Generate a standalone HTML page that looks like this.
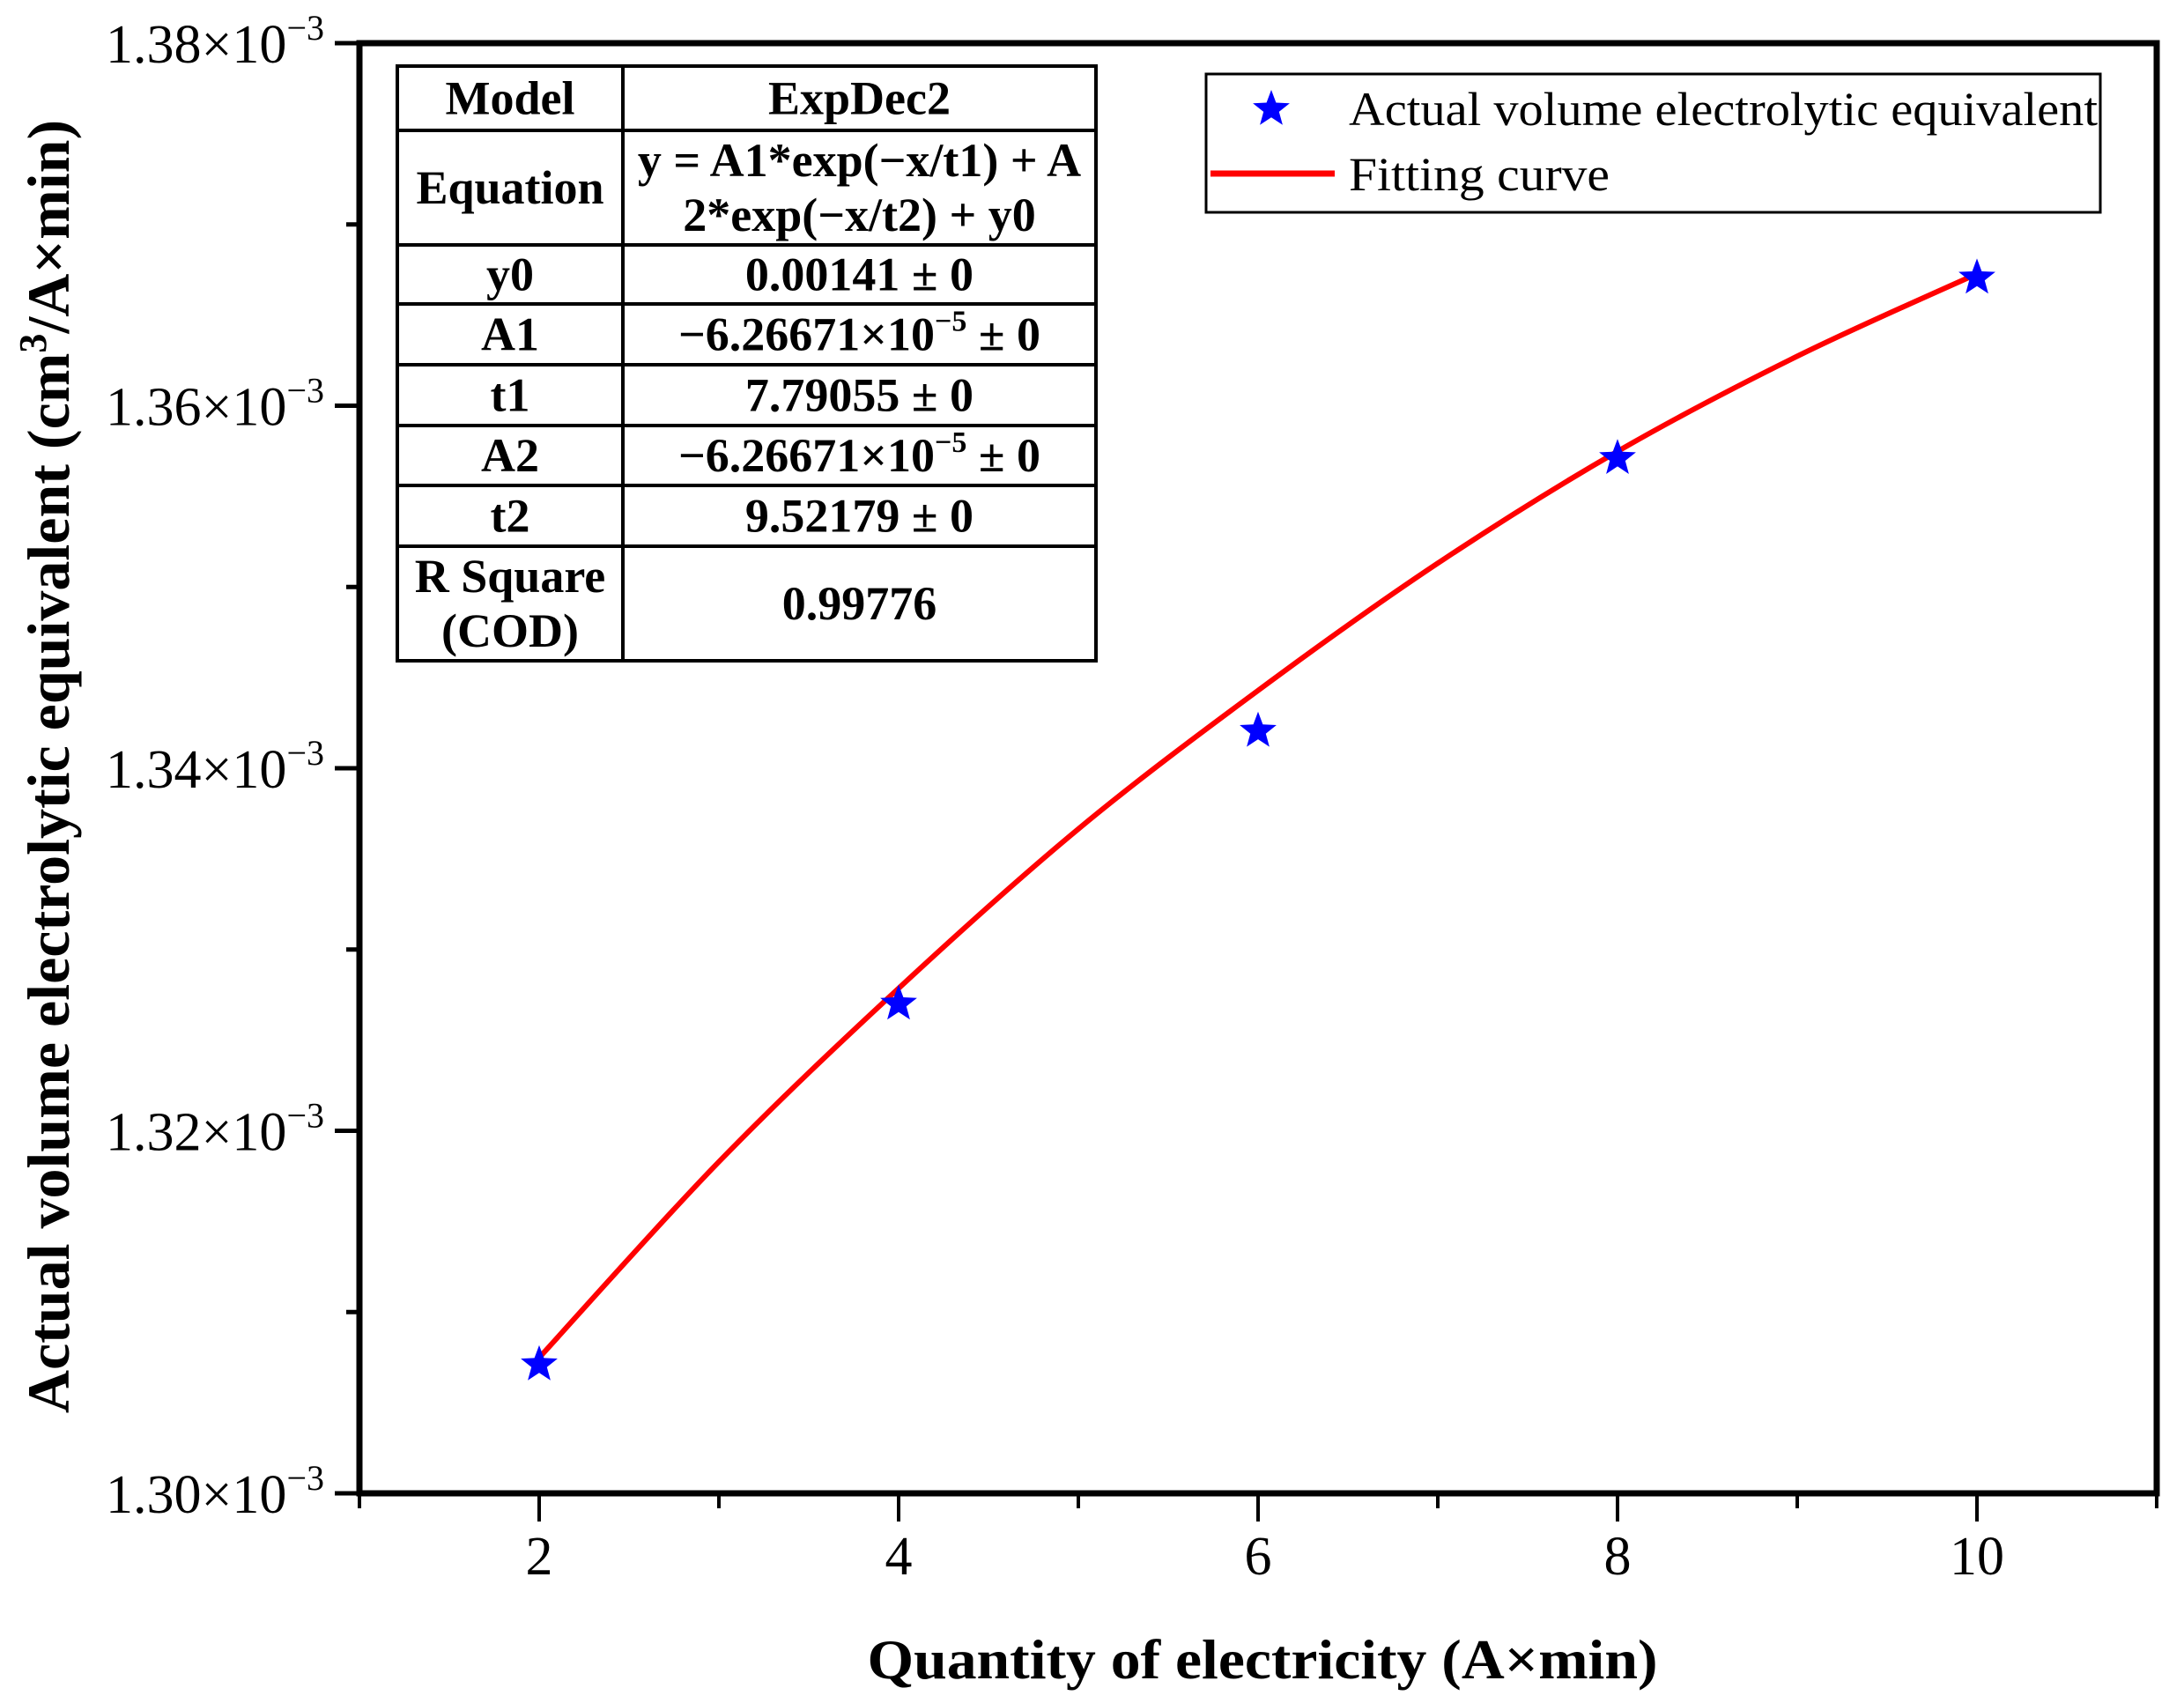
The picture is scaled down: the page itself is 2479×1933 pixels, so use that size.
<!DOCTYPE html>
<html><head><meta charset="utf-8"><style>
html,body{margin:0;padding:0;background:#fff;}
svg{display:block;font-family:"Liberation Serif",serif;}
</style></head><body>
<svg id="chart" width="2479" height="1933" viewBox="0 0 2479 1933" xmlns="http://www.w3.org/2000/svg">
<g id="axes"></g>
<g id="marks"></g>
<g id="table"></g>
<g id="legend"></g>
</svg>
<script>
const xPoints = [2, 4, 6, 8, 10];
const yPoints = [1.30710, 1.32700, 1.34205, 1.35710, 1.36705];
const fitX = [2, 3, 4, 5, 6, 7, 8, 9, 10];
const fitY = [1.30748, 1.31829, 1.32786, 1.33665, 1.34429, 1.35131, 1.35748, 1.36273, 1.36728];
const xTicks = [2, 4, 6, 8, 10];
const xMinor = [3, 5, 7, 9, 1, 11];
const yTicks = [1.30, 1.32, 1.34, 1.36, 1.38];
const yTickLabels = ["1.30", "1.32", "1.34", "1.36", "1.38"];
const yMinor = [1.31, 1.33, 1.35, 1.37];
const tableRows = [
  ["Model","ExpDec2"],
  ["Equation","y = A1*exp(−x/t1) + A|2*exp(−x/t2) + y0"],
  ["y0","0.00141 ± 0"],
  ["A1","−6.26671×10^−5 ± 0"],
  ["t1","7.79055 ± 0"],
  ["A2","−6.26671×10^−5 ± 0"],
  ["t2","9.52179 ± 0"],
  ["R Square|(COD)","0.99776"]
];

const NS = "http://www.w3.org/2000/svg";
const L = 408, R = 2448, T = 49, B = 1695;
const xMin = 1, xMax = 11, yMin = 1.30, yMax = 1.38;
function sx(v){ return L + (v - xMin) / (xMax - xMin) * (R - L); }
function sy(v){ return B - (v - yMin) / (yMax - yMin) * (B - T); }
function mk(tag, attrs, parent){
  const e = document.createElementNS(NS, tag);
  for (const k in attrs) e.setAttribute(k, attrs[k]);
  parent.appendChild(e); return e;
}
const axes = document.getElementById('axes');
const marks = document.getElementById('marks');
const table = document.getElementById('table');
const legend = document.getElementById('legend');

const frame = mk('rect', {x:L, y:T, width:R-L, height:B-T, fill:'none', stroke:'#000', 'stroke-width':7}, axes);



xTicks.forEach(v => {
  const t = mk('line', {x1:sx(v), x2:sx(v), y1:B, y2:B+32, stroke:'#000', 'stroke-width':4}, axes);
  
  
  const lb = mk('text', {x:sx(v), y:B+92, 'font-size':62, 'text-anchor':'middle'}, axes);
  lb.textContent = String(v);
  
  
});
xMinor.forEach(v => {
  const t = mk('line', {x1:sx(v), x2:sx(v), y1:B, y2:B+17, stroke:'#000', 'stroke-width':4}, axes);
  
  
});
yTicks.forEach((v, i) => {
  const t = mk('line', {x1:L-28, x2:L, y1:sy(v), y2:sy(v), stroke:'#000', 'stroke-width':5}, axes);
  
  
  const lb = mk('text', {x:L-40, y:sy(v)+22, 'font-size':62, 'text-anchor':'end'}, axes);
  
  
  const a = mk('tspan', {}, lb); a.textContent = yTickLabels[i] + "×10";
  const b = mk('tspan', {dy:-26, 'font-size':40}, lb); b.textContent = "−3";
});
yMinor.forEach(v => {
  const t = mk('line', {x1:L-15, x2:L, y1:sy(v), y2:sy(v), stroke:'#000', 'stroke-width':5}, axes);
  
  
});
const xt = mk('text', {x:1433, y:1905, 'font-size':64, 'font-weight':'bold', 'text-anchor':'middle', textLength:897, lengthAdjust:'spacingAndGlyphs'}, axes);
xt.textContent = "Quantity of electricity (A×min)";


const yt = mk('text', {x:0, y:0, 'font-size':68, 'font-weight':'bold', 'text-anchor':'middle', transform:'translate(78,870) rotate(-90)'}, axes);


const y1 = mk('tspan', {}, yt); y1.textContent = "Actual volume electrolytic equivalent (cm";
const y2 = mk('tspan', {dy:-26, 'font-size':44}, yt); y2.textContent = "3";
const y3 = mk('tspan', {dy:26}, yt); y3.textContent = "/A×min)";

const pts = fitX.map((x, i) => [sx(x), sy(fitY[i])]);
let d = `M${pts[0][0]},${pts[0][1]}`;
for (let i = 0; i < pts.length - 1; i++) {
  const p0 = pts[Math.max(i-1,0)], p1 = pts[i], p2 = pts[i+1], p3 = pts[Math.min(i+2, pts.length-1)];
  const c1 = [p1[0] + (p2[0]-p0[0])/6, p1[1] + (p2[1]-p0[1])/6];
  const c2 = [p2[0] - (p3[0]-p1[0])/6, p2[1] - (p3[1]-p1[1])/6];
  d += ` C${c1[0]},${c1[1]} ${c2[0]},${c2[1]} ${p2[0]},${p2[1]}`;
}
const curve = mk('path', {d:d, fill:'none', stroke:'#ff0000', 'stroke-width':6}, marks);



function star(cx, cy, r){
  let s = '';
  for (let k = 0; k < 10; k++) {
    const rr = k % 2 === 0 ? r : r * 0.42;
    const a = -Math.PI/2 + k * Math.PI/5;
    s += (k ? 'L' : 'M') + (cx + rr*Math.cos(a)).toFixed(1) + ',' + (cy + rr*Math.sin(a)).toFixed(1);
  }
  return s + 'Z';
}
xPoints.forEach((x, i) => {
  const s = mk('path', {d:star(sx(x), sy(yPoints[i]), 22), fill:'#0000ff'}, marks);
  
  
});

const tX = [451, 707, 1244];
const tY = [75, 148, 278, 345, 414, 483, 551, 620, 750];
const tbBox = mk('rect', {x:tX[0], y:tY[0], width:tX[2]-tX[0], height:tY[8]-tY[0], fill:'#fff', stroke:'#000', 'stroke-width':4}, table);


const vl = mk('line', {x1:tX[1], x2:tX[1], y1:tY[0], y2:tY[8], stroke:'#000', 'stroke-width':4}, table);


for (let i = 1; i < 8; i++) {
  const hl = mk('line', {x1:tX[0], x2:tX[2], y1:tY[i], y2:tY[i], stroke:'#000', 'stroke-width':4}, table);
  
  
}
function cellText(str, cx, top, bot){
  const lines = str.split('|');
  const mid = (top + bot) / 2;
  lines.forEach((ln, j) => {
    const y = mid + 18 + (j - (lines.length-1)/2) * 62;
    const t = mk('text', {x:cx, y:y, 'font-size':54, 'font-weight':'bold', 'text-anchor':'middle'}, table);
    
    
    if (ln.includes('^')) {
      const [a, rest] = ln.split('^');
      const sup = rest.slice(0, 2), tail = rest.slice(2);
      const s1 = mk('tspan', {}, t); s1.textContent = a;
      const s2 = mk('tspan', {dy:-22, 'font-size':34}, t); s2.textContent = sup;
      const s3 = mk('tspan', {dy:22}, t); s3.textContent = tail;
    } else t.textContent = ln;
  });
}
tableRows.forEach((row, i) => {
  cellText(row[0], (tX[0]+tX[1])/2, tY[i], tY[i+1]);
  cellText(row[1], (tX[1]+tX[2])/2, tY[i], tY[i+1]);
});

const lg = mk('rect', {x:1369, y:84, width:1015, height:157, fill:'#fff', stroke:'#000', 'stroke-width':3}, legend);


const ls = mk('path', {d:star(1443, 124, 22), fill:'#0000ff'}, legend);


const lt1 = mk('text', {x:1531, y:142, 'font-size':54, textLength:850, lengthAdjust:'spacingAndGlyphs'}, legend);
lt1.textContent = "Actual volume electrolytic equivalent";


const ll = mk('line', {x1:1374, x2:1515, y1:197, y2:197, stroke:'#ff0000', 'stroke-width':7}, legend);


const lt2 = mk('text', {x:1531, y:216, 'font-size':54, textLength:296, lengthAdjust:'spacingAndGlyphs'}, legend);
lt2.textContent = "Fitting curve";


</script>
</body></html>
